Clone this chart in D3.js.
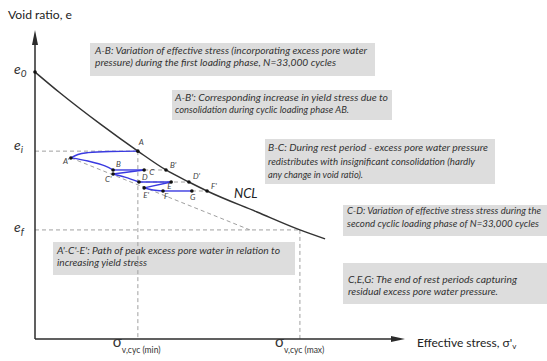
<!DOCTYPE html>
<html>
<head>
<meta charset="utf-8">
<script src="https://cdn.jsdelivr.net/npm/d3@7"></script>
<style>
  body { margin: 0; background: #fff; }
  svg { display: block; font-family: Lato, "Open Sans", sans-serif; }
</style>
</head>
<body>
<svg id="chart" width="547" height="361"></svg>
<script>
// Schematic units: effective stress 0–100, void ratio 0–1
const nclStress = [0, 6.8, 17.6, 27.8, 35.4, 41.6, 46.5, 60, 71.6, 78.4];
const nclVoid   = [0.864, 0.796, 0.696, 0.608, 0.547, 0.508, 0.479, 0.411, 0.353, 0.324];

const voidLevels = [0.864, 0.608, 0.353];           // e0, ei, ef
const voidLevelNames = ["0", "i", "f"];
const stressTicks = [27.8, 71.6];                    // σv,cyc (min), σv,cyc (max)
const stressTickLabels = ["v,cyc (min)", "v,cyc (max)"];

// Marked states along the cyclic path
const pointNames  = ["A", "A'", "B", "C'", "C", "D", "E", "E'", "F", "G", "B'", "D'", "F'"];
const pointStress = [27.8, 9.7, 21.1, 21.1, 29.5, 28.1, 36.8, 29.5, 34.6, 42.4, 35.4, 41.6, 46.5];
const pointVoid   = [0.608, 0.586, 0.547, 0.534, 0.547, 0.508, 0.508, 0.489, 0.479, 0.479, 0.547, 0.508, 0.479];

// Cyclic loading / rest path, one segment per stage (listed by increasing stress)
const pathStress = [
  [9.7, 11.6, 14.3, 20.3, 27.8],   // A -> A'
  [9.7, 14.3, 18.9, 21.1],         // A' -> B
  [21.1, 29.5],                    // B -> C
  [21.1, 29.5],                    // C -> C'
  [21.1, 24.3, 28.1],              // C' -> D
  [28.1, 36.8],                    // D -> E
  [29.5, 36.8],                    // E -> E'
  [29.5, 31.9, 34.6],              // E' -> F
  [34.6, 42.4]                     // F -> G
];
const pathVoid = [
  [0.586, 0.597, 0.603, 0.607, 0.608],
  [0.586, 0.576, 0.560, 0.547],
  [0.547, 0.547],
  [0.534, 0.547],
  [0.534, 0.524, 0.508],
  [0.508, 0.508],
  [0.489, 0.508],
  [0.489, 0.482, 0.479],
  [0.479, 0.479]
];

// Dashed guide lines
const guideStress = [
  [0, 27.8], [0, 71.6], [27.8, 27.8], [71.6, 71.6],
  [9.7, 58.1], [29.5, 35.4], [28.1, 41.6], [42.4, 46.5]
];
const guideVoid = [
  [0.608, 0.608], [0.353, 0.353], [0.608, 0], [0.353, 0],
  [0.586, 0.353], [0.547, 0.547], [0.508, 0.508], [0.479, 0.479]
];

const notes = [
  { box: [90, 43, 285, 33], tx: 95, lines: [
      ["A-B: Variation of effective stress (incorporating excess pore water", 54, 272],
      ["pressure) during the first loading phase, N=33,000 cycles", 66, 241]] },
  { box: [172, 90, 220, 30], tx: 175, lines: [
      ["A-B': Corresponding increase in yield stress due to", 101, 213],
      ["consolidation during cyclic loading phase AB.", 113, 174]] },
  { box: [265, 139, 230, 45], tx: 268, lines: [
      ["B-C: During rest period - excess pore water pressure", 151, 220],
      ["redistributes with insignificant consolidation (hardly", 165, 207],
      ["any change in void ratio).", 178, 95]] },
  { box: [343, 205, 204, 31], tx: 347, lines: [
      ["C-D: Variation of effective stress stress during the", 214, 194],
      ["second cyclic loading phase of N=33,000 cycles", 227, 192]] },
  { box: [343, 263, 204, 41], tx: 348, lines: [
      ["C,E,G: The end of rest periods capturing", 283, 169],
      ["residual excess pore water pressure.", 295, 150]] },
  { box: [53, 242, 242, 33], tx: 57, lines: [
      ["A'-C'-E': Path of peak excess pore water in relation to", 254, 223],
      ["increasing yield stress", 266, 90]] }
];

const width = 547;
const svg = d3.select("#chart");
const x = d3.scaleLinear().domain([0, 100]).range([35, 405]);
const y = d3.scaleLinear().domain([0, 1]).range([339, 30]);
const axisColor = "#2b2b2b";

// annotation boxes
notes.forEach(n => {
  svg.append("rect").attr("x", n.box[0]).attr("y", n.box[1])
    .attr("width", n.box[2]).attr("height", n.box[3]).attr("fill", "#dddddd");
  n.lines.forEach(([t, by, w]) => {
    const txt = svg.append("text").attr("x", n.tx).attr("y", by)
      .attr("font-size", 10).attr("font-style", "italic").attr("fill", "#333").text(t);
    // lines near the right edge get a smaller font so they fit inside the frame
    const natural = txt.node().getComputedTextLength();
    if (n.tx + natural > width - 3) {
      txt.attr("font-size", 10 * (width - 3 - n.tx) / natural);
    }
    txt.attr("textLength", w).attr("lengthAdjust", "spacingAndGlyphs");
  });
});

// dashed guides
const line = d3.line().x(d => x(d[0])).y(d => y(d[1]));
guideStress.forEach((s, i) => {
  svg.append("path").attr("d", line(d3.zip(s, guideVoid[i])))
    .attr("fill", "none").attr("stroke", "#a0a0a0").attr("stroke-width", 1)
    .attr("stroke-dasharray", "4,3");
});

// normal consolidation line
const smooth = d3.line().x(d => x(d[0])).y(d => y(d[1])).curve(d3.curveMonotoneX);
svg.append("path")
  .attr("d", smooth(d3.zip(nclStress, nclVoid)))
  .attr("fill", "none").attr("stroke", "#333").attr("stroke-width", 1.5);

// cyclic path
pathStress.forEach((s, i) => {
  svg.append("path").attr("d", smooth(d3.zip(s, pathVoid[i])))
    .attr("fill", "none").attr("stroke", "#3a3ae0").attr("stroke-width", 1.4);
});

// axes
svg.append("g").attr("transform", `translate(0,${y(0)})`)
  .call(d3.axisBottom(x).tickValues([]).tickSizeOuter(0))
  .call(g => g.select(".domain").attr("stroke", axisColor).attr("stroke-width", 1.5)
        .attr("d", `M${x(0)},0H${x(100) - 10}`));
svg.append("g").attr("transform", `translate(${x(0)},0)`)
  .call(d3.axisLeft(y).tickValues([]).tickSizeOuter(0))
  .call(g => g.select(".domain").attr("stroke", axisColor).attr("stroke-width", 1.5)
        .attr("d", `M0,${y(0)}V${y(1) + 10}`));
// arrow heads
svg.append("path").attr("fill", axisColor)
  .attr("d", `M${x(0)},${y(1)}L${x(0) - 3},${y(1) + 15}L${x(0) + 3},${y(1) + 15}Z`);
svg.append("path").attr("fill", axisColor)
  .attr("d", `M${x(100)},${y(0)}L${x(100) - 14},${y(0) - 3}L${x(100) - 14},${y(0) + 3}Z`);

// axis titles
svg.append("text").attr("x", 8).attr("y", 19).attr("font-size", 12).attr("fill", "#222")
  .attr("textLength", 64).attr("lengthAdjust", "spacingAndGlyphs").text("Void ratio, e");
const xt = svg.append("text").attr("x", 417).attr("y", 347).attr("font-size", 12).attr("fill", "#222");
xt.append("tspan").text("Effective stress, σ'");
xt.append("tspan").attr("font-size", 8).attr("dy", 2).text("v");

// void ratio levels on the vertical axis
voidLevels.forEach((v, i) => {
  const t = svg.append("text").attr("x", 14).attr("y", y(v) + 2 - (i === 1 ? 3 : 0))
    .attr("font-size", 14).attr("font-style", "italic").attr("fill", "#333");
  t.append("tspan").text("e");
  t.append("tspan").attr("font-size", 10).attr("dy", 3).text(voidLevelNames[i]);
});
svg.append("circle").attr("cx", x(0)).attr("cy", y(voidLevels[0])).attr("r", 1.8).attr("fill", "#111");

// stress tick labels
stressTicks.forEach((s, i) => {
  const t = svg.append("text").attr("x", x(s) - 25).attr("y", y(0) + 8).attr("fill", "#333");
  t.append("tspan").attr("font-size", 15).text("σ");
  t.append("tspan").attr("font-size", 8.5).attr("dy", 6).text(stressTickLabels[i]);
});

// NCL label
svg.append("text").attr("x", 234).attr("y", 198).attr("font-size", 13).attr("font-style", "italic")
  .attr("fill", "#222").text("NCL");

// state points and labels
const labelOffset = {
  "A": [1, -6], "A'": [-8, 6], "B": [3, -3], "C'": [-8, 8], "C": [5, 5], "D": [3, -2],
  "E": [-4, 7], "E'": [-1, 10], "F": [1, 8], "G": [-2, 9], "B'": [4, -2], "D'": [4, -3], "F'": [4, -2]
};
pointNames.forEach((nm, i) => {
  const cx = x(pointStress[i]), cy = y(pointVoid[i]);
  svg.append("circle").attr("cx", cx).attr("cy", cy).attr("r", 1.8).attr("fill", "#111");
  svg.append("text").attr("x", cx + labelOffset[nm][0]).attr("y", cy + labelOffset[nm][1])
    .attr("font-size", 8).attr("font-style", "italic").attr("fill", "#444").text(nm);
});
</script>
</body>
</html>
